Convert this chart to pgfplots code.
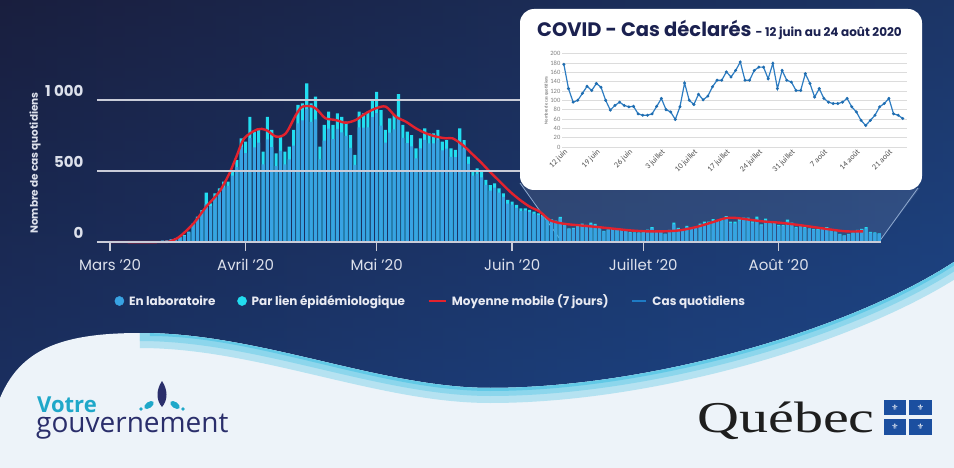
\documentclass[border=0pt]{standalone}
\usepackage{fontspec}
\setmainfont{Poppins}
\newfontfamily\carlito{Carlito}
\newfontfamily\opensans{Open Sans}
\newfontfamily\libserif{Liberation Serif}
\newfontfamily\dejavu{DejaVu Sans}
\usepackage{pgfplots}
\pgfplotsset{compat=1.18}
\usepackage{pgfplotstable}

\definecolor{labc}{HTML}{38A3E3}
\definecolor{epic}{HTML}{22DDF0}
\definecolor{redc}{HTML}{E3222D}
\definecolor{dailyc}{HTML}{1E7BC4}
\definecolor{gridc}{HTML}{C9CCD8}
\definecolor{tickc}{HTML}{DDE1EC}
\definecolor{legendc}{HTML}{E8EAF2}
\definecolor{bgl}{HTML}{1A2042}
\definecolor{bgr}{HTML}{1F4A8C}
\definecolor{bgtop}{HTML}{191D3A}
\definecolor{bgbot}{HTML}{1A4A94}
\definecolor{lightbg}{HTML}{EDF3F9}
\definecolor{cyanband}{HTML}{62C9E6}
\definecolor{votrec}{HTML}{1FA8C9}
\definecolor{gouvc}{HTML}{2A2E6B}
\definecolor{quebecc}{HTML}{1E1E1E}
\definecolor{flagc}{HTML}{1B4FA0}
\definecolor{titlec}{HTML}{1B2150}
\definecolor{insetline}{HTML}{2E7DC2}
\definecolor{insetmark}{HTML}{1F6DB0}
\definecolor{insetgrid}{HTML}{DCDCDC}
\definecolor{insettick}{HTML}{505050}
\definecolor{zoomline}{HTML}{8FAAD0}

% day 0 = 1 March 2020
\pgfplotstableread{
d total lab
0 0 0
1 0 0
2 0 0
3 0 0
4 0 0
5 0 0
6 1 1
7 1 1
8 2 2
9 3 3
10 4 4
11 6 6
12 9 9
13 12 12
14 18 18
15 25 24
16 35 33
17 49 44
18 73 68
19 131 123
20 178 168
21 225 213
22 347 267
23 272 252
24 343 318
25 378 348
26 425 385
27 425 395
28 507 467
29 577 527
30 730 670
31 706 626
32 882 732
33 777 667
34 800 700
35 636 546
36 882 722
37 789 669
38 624 534
39 742 642
40 636 546
41 671 581
42 789 679
43 965 835
44 976 856
45 1117 937
46 976 846
47 1023 863
48 671 581
49 824 714
50 918 798
51 824 724
52 906 796
53 882 772
54 847 747
55 753 663
56 613 543
57 918 808
58 906 806
59 918 808
60 1000 880
61 1058 908
62 929 819
63 789 699
64 871 771
65 894 794
66 1042 882
67 824 734
68 777 697
69 753 673
70 659 589
71 730 660
72 800 720
73 765 695
74 765 695
75 789 719
76 706 646
77 718 658
78 659 599
79 648 598
80 800 690
81 718 658
82 601 551
83 507 467
84 519 479
85 495 455
86 437 402
87 401 361
88 413 383
89 378 348
90 343 318
91 296 271
92 284 264
93 261 241
94 237 217
95 237 222
96 226 211
97 214 199
98 202 190
99 190 180
100 170 160
101 160 150
102 150 142
103 177 167
104 125 117
105 96 90
106 100 94
107 115 107
108 130 120
109 121 113
110 136 126
111 128 120
112 100 94
113 79 74
114 89 83
115 96 88
116 89 84
117 86 80
118 87 81
119 71 66
120 68 63
121 68 64
122 71 66
123 87 81
124 104 96
125 80 75
126 75 70
127 59 55
128 86 80
129 137 125
130 100 93
131 91 85
132 113 105
133 101 94
134 109 101
135 129 119
136 143 131
137 143 133
138 161 148
139 150 140
140 164 150
141 182 165
142 143 133
143 143 132
144 164 151
145 171 158
146 171 160
147 146 136
148 179 164
149 125 117
150 164 152
151 143 133
152 139 129
153 121 113
154 121 113
155 157 145
156 136 127
157 107 100
158 125 116
159 104 97
160 96 90
161 93 87
162 93 87
163 96 90
164 104 96
165 86 80
166 75 70
167 57 53
168 46 43
169 57 53
170 68 63
171 86 80
172 93 87
173 104 96
174 71 66
175 68 63
176 61 57
}\maindata

\pgfplotstableread{
d avg
0 0
12 0
14 8
16 40
19.1 131
22 249
25 354
27.3 483
28.9 601
30.7 730
33.7 793
35.7 789
38 742
40.2 765
42.5 894
44 953
46.4 953
47.8 918
49.3 871
51.6 859
53.9 840
56.2 859
58.5 906
60.8 941
63.1 953
65.4 882
67.7 847
70 800
72.3 765
74.6 742
76.9 730
78.4 730
80.7 683
82.3 636
84.7 566
86.9 495
89.2 425
91.5 355
93.8 296
96 249
98.3 214
100.7 153
103.7 129
107.5 117
111.3 106
115.1 94
118.9 82
122.7 75
126.5 75
130.3 82
134.2 106
138 141
141 169
143.3 169
145.6 160
149.4 145
153.2 136
157 122
160.8 106
164.6 89
168.4 75
172.3 75
}\mavg

% day 0 = 12 juin
\pgfplotstableread{
d cas
0 177
1 125
2 96
3 100
4 115
5 130
6 121
7 136
8 128
9 100
10 79
11 89
12 96
13 89
14 86
15 87
16 71
17 68
18 68
19 71
20 87
21 104
22 80
23 75
24 59
25 86
26 137
27 100
28 91
29 113
30 101
31 109
32 129
33 143
34 143
35 161
36 150
37 164
38 182
39 143
40 143
41 164
42 171
43 171
44 146
45 179
46 125
47 164
48 143
49 139
50 121
51 121
52 157
53 136
54 107
55 125
56 104
57 96
58 93
59 93
60 96
61 104
62 86
63 75
64 57
65 46
66 57
67 68
68 86
69 93
70 104
71 71
72 68
73 61
}\insetdata

\begin{document}
\begin{tikzpicture}
\useasboundingbox (0pt,0pt) rectangle (954pt,-468pt);
\clip (0pt,0pt) rectangle (954pt,-468pt);
\begin{scope}[x=1pt,y=1pt]
% background
\shade[left color=bgl, right color=bgr] (0,0) rectangle (954,-468);
\shade[top color=bgtop, bottom color=bgbot, opacity=0.45] (0,0) rectangle (954,-468);
% light lower region with wave
\fill[lightbg] (0,-398) .. controls (20,-350) and (60,-333) .. (140,-333)
  .. controls (260,-333) and (380,-388) .. (490,-388)
  .. controls (650,-388) and (850,-330) .. (954,-262) -- (954,-468) -- (0,-468) -- cycle;
\begin{scope}
\clip (0,-398) .. controls (20,-350) and (60,-333) .. (140,-333)
  .. controls (260,-333) and (380,-388) .. (490,-388)
  .. controls (650,-388) and (850,-330) .. (954,-262) -- (954,-468) -- (0,-468) -- cycle;
\draw[cyanband!40!lightbg, line width=30pt] (140,-333)
  .. controls (260,-333) and (380,-388) .. (490,-388)
  .. controls (650,-388) and (850,-330) .. (954,-262);
\draw[cyanband!70!lightbg, line width=16pt] (140,-333)
  .. controls (260,-333) and (380,-388) .. (490,-388)
  .. controls (650,-388) and (850,-330) .. (954,-262);
\draw[cyanband, line width=6pt] (150,-333)
  .. controls (260,-333) and (380,-388) .. (490,-388)
  .. controls (650,-388) and (850,-330) .. (954,-262);
\end{scope}
% zoom trapezoid
\fill[white, opacity=0.09] (520,-183) -- (920,-188) -- (879,-242) -- (562,-242) -- cycle;
\draw[zoomline, line width=0.8pt] (520,-183) -- (562,-242);
\draw[zoomline, line width=0.8pt] (918,-188) -- (879,-242);
\end{scope}

% main chart
\begin{axis}[
  at={(97pt,-242pt)}, anchor=south west, scale only axis,
  width=784.4pt, height=163.3pt,
  xmin=-3, xmax=176.5, ymin=0, ymax=1150,
  axis x line*=bottom, axis y line*=left,
  x axis line style={draw=gridc, line width=1.4pt, -},
  y axis line style={draw=none},
  ytick={0,500,1000}, yticklabels={0,500,1\hspace{0.22em}000},
  ymajorgrids, grid style={gridc, line width=1.4pt},
  xtick={0,31,61,92,122,153},
  xticklabels={Mars '20, Avril '20, Mai '20, Juin '20, Juillet '20, Août '20},
  tick align=outside, major tick length=9pt,
  xtick style={draw=gridc, line width=1.4pt},
  ytick style={draw=none},
  xticklabel style={font=\fontsize{15}{18}\selectfont, text=tickc, yshift=-5pt},
  yticklabel style={font=\bfseries\fontsize{15}{18}\selectfont, text=tickc, anchor=east, xshift=-1pt, yshift=9pt},
  axis on top, clip=false,
  legend columns=4,
  legend style={at={(0.4258,-0.3613)}, anchor=center, draw=none, fill=none,
    text=legendc, font=\bfseries\fontsize{12}{14}\selectfont,
    /tikz/every even column/.append style={column sep=20pt},
    /tikz/every odd column/.append style={column sep=3pt}},
  legend cell align=left,
]
\addplot[ybar, bar width=3.1pt, bar shift=0pt, fill=epic, draw=none, forget plot] table[x=d, y=total] {\maindata};
\addplot[ybar, bar width=3.1pt, bar shift=0pt, fill=labc, draw=none, forget plot] table[x=d, y=lab] {\maindata};
\addplot[redc, line width=2.4pt, smooth, forget plot] table[x=d, y=avg] {\mavg};
\addlegendimage{only marks, mark=*, mark size=4.6pt, color=labc}
\addlegendentry{En laboratoire}
\addlegendimage{only marks, mark=*, mark size=4.6pt, color=epic}
\addlegendentry{Par lien épidémiologique}
\addlegendimage{legend image code/.code={\draw[redc, line width=2.8pt] (0pt,0pt) -- (17pt,0pt);}}
\addlegendentry{Moyenne mobile (7 jours)}
\addlegendimage{legend image code/.code={\draw[dailyc, line width=2.8pt] (0pt,0pt) -- (14pt,0pt);}}
\addlegendentry{Cas quotidiens}
\end{axis}
\node[rotate=90, font=\bfseries\fontsize{10.5}{12}\selectfont, text=tickc] at (35pt,-163pt) {Nombre de cas quotidiens};

% inset
\fill[white, rounded corners=14pt] (520pt,-9pt) rectangle (922pt,-190pt);
\node[anchor=base west, inner sep=0pt, text=titlec] at (537pt,-37pt)
  {\bfseries\fontsize{19.5}{20}\selectfont COVID - Cas déclarés \fontsize{12}{12}\selectfont - 12 juin au 24 août 2020};
\begin{axis}[
  at={(562pt,-147pt)}, anchor=south west, scale only axis,
  width=345pt, height=93.4pt,
  xmin=-0.4, xmax=73.9, ymin=0, ymax=200,
  axis line style={draw=none}, tick style={draw=none},
  ytick={0,20,...,200}, ymajorgrids, grid style={insetgrid, line width=0.6pt},
  xtick={0,7,...,70},
  xticklabels={12 juin,19 juin,26 juin,3 juillet,10 juillet,17 juillet,24 juillet,31 juillet,7 août,14 août,21 août},
  xticklabel style={rotate=45, anchor=north east, font=\carlito\fontsize{8}{8}\selectfont, text=insettick, inner sep=1pt},
  yticklabel style={font=\carlito\fontsize{6.5}{7}\selectfont, text=gray, inner sep=1.5pt},
  /pgf/number format/assume math mode=true,
  ylabel={Nombre de cas quotidiens},
  ylabel style={font=\carlito\fontsize{4.5}{5}\selectfont, text=insettick, yshift=-3pt},
]
\addplot[color=insetline, line width=1.2pt, mark=*, mark size=0.8pt, mark options={fill=insetmark, draw=insetmark}] table[x=d, y=cas] {\insetdata};
\end{axis}

\begin{scope}[x=1pt,y=1pt]
% Votre gouvernement logo
\node[anchor=base west, inner sep=0pt, text=votrec] at (37,-412) {\opensans\bfseries\fontsize{22}{22}\selectfont Votre};
\node[anchor=base west, inner sep=0pt, text=gouvc] at (36,-432) {\opensans\fontsize{28}{28}\selectfont gouvernement};
\fill[gouvc] (162,-381) .. controls (168,-390) and (168,-400) .. (162,-407) .. controls (156,-400) and (156,-390) .. (162,-381) -- cycle;
\fill[votrec, rotate around={35:(149,-405)}] (149,-405) ellipse (5.5 and 3);
\fill[votrec, rotate around={-35:(175,-405)}] (175,-405) ellipse (5.5 and 3);
\fill[votrec] (141,-409) circle (1.8);
\fill[votrec] (183,-409) circle (1.8);

% Quebec logo
\node[anchor=base west, inner sep=0pt, text=quebecc, xscale=1.32] at (697,-432) {\libserif\fontsize{44}{44}\selectfont Québec};
\fill[flagc] (884,-400) rectangle (906,-415);
\fill[flagc] (909,-400) rectangle (932,-415);
\fill[flagc] (884,-419) rectangle (906,-435);
\fill[flagc] (909,-419) rectangle (932,-435);
\foreach \fx/\fy in {895/-407.5, 920.5/-407.5, 895/-427, 920.5/-427}
  \node[text=white, inner sep=0pt, font=\dejavu\fontsize{8}{8}\selectfont] at (\fx,\fy) {⚜};
\end{scope}
\end{tikzpicture}
\end{document}
